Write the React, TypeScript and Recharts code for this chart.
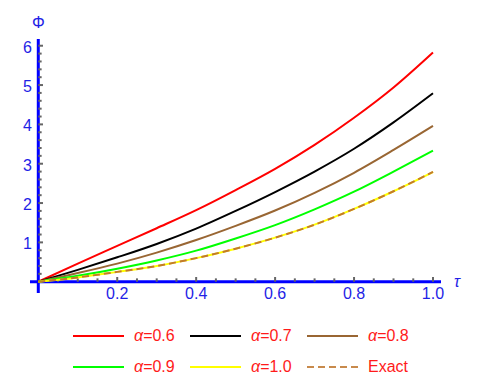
import { Legend, Line, LineChart, ReferenceLine, XAxis, YAxis } from "recharts";

const tau = [0, 0.1, 0.2, 0.3, 0.4, 0.5, 0.6, 0.7, 0.8, 0.9, 1.0];
const alpha06 = [0, 0.46, 0.91, 1.36, 1.82, 2.33, 2.87, 3.48, 4.17, 4.94, 5.83];
const alpha07 = [0, 0.3, 0.62, 0.96, 1.35, 1.8, 2.28, 2.8, 3.38, 4.05, 4.79];
const alpha08 = [0, 0.22, 0.46, 0.74, 1.06, 1.42, 1.81, 2.26, 2.77, 3.35, 3.96];
const alpha09 = [0, 0.15, 0.33, 0.54, 0.79, 1.1, 1.44, 1.84, 2.29, 2.8, 3.33];
const alpha10 = [0, 0.11, 0.25, 0.4, 0.6, 0.84, 1.12, 1.45, 1.85, 2.3, 2.79];
const exact = [0, 0.11, 0.25, 0.4, 0.6, 0.84, 1.12, 1.45, 1.85, 2.3, 2.79];

const xTickLabels = [0.2, 0.4, 0.6, 0.8, 1.0];
const yTickLabels = [1, 2, 3, 4, 5, 6];
const xMinorTicks = [
  0.05, 0.1, 0.15, 0.25, 0.3, 0.35, 0.45, 0.5, 0.55, 0.65, 0.7, 0.75, 0.85, 0.9, 0.95,
];
const yMinorTicks = [
  0.2, 0.4, 0.6, 0.8, 1.2, 1.4, 1.6, 1.8, 2.2, 2.4, 2.6, 2.8, 3.2, 3.4, 3.6, 3.8, 4.2, 4.4,
  4.6, 4.8, 5.2, 5.4, 5.6, 5.8,
];

const series = [
  { key: "a06", name: "α=0.6", color: "#ff0000", dash: undefined as string | undefined },
  { key: "a07", name: "α=0.7", color: "#000000", dash: undefined },
  { key: "a08", name: "α=0.8", color: "#996633", dash: undefined },
  { key: "a09", name: "α=0.9", color: "#00ff00", dash: undefined },
  { key: "a10", name: "α=1.0", color: "#ffff00", dash: undefined },
  { key: "exact", name: "Exact", color: "#c27a2c", dash: "7 4" },
];

const data = tau.map((t, i) => ({
  tau: t,
  a06: alpha06[i],
  a07: alpha07[i],
  a08: alpha08[i],
  a09: alpha09[i],
  a10: alpha10[i],
  exact: exact[i],
}));

const LABEL_BLUE = "#1f1fe6";
const FONT = "'Liberation Sans', Arial, sans-serif";

const XTick = (props: any) => (
  <text
    x={props.x}
    y={props.y}
    dy={6}
    textAnchor="middle"
    fill={LABEL_BLUE}
    fontSize={16}
    fontFamily={FONT}
  >
    {Number(props.payload.value).toFixed(1)}
  </text>
);

const YTick = (props: any) => (
  <text
    x={props.x}
    y={props.y}
    dx={2}
    dy={7}
    textAnchor="end"
    fill={LABEL_BLUE}
    fontSize={16}
    fontFamily={FONT}
  >
    {props.payload.value}
  </text>
);

const LegendBox = () => (
  <div style={{ position: "relative", width: 498, height: 58, fontFamily: FONT }}>
    {series.map((s, i) => (
      <div
        key={s.key}
        style={{
          position: "absolute",
          left: 73 + (i % 3) * 117,
          top: Math.floor(i / 3) * 31,
          height: 20,
          display: "flex",
          alignItems: "center",
        }}
      >
        <svg width={51} height={4}>
          <line
            x1={0}
            y1={2}
            x2={51}
            y2={2}
            stroke={s.key === "exact" ? "#c88a4c" : s.color}
            strokeWidth={2}
            strokeDasharray={s.dash}
          />
        </svg>
        <span style={{ marginLeft: 10, color: "#ff1a1a", fontSize: 16, lineHeight: "20px" }}>
          {s.key === "exact" ? (
            "Exact"
          ) : (
            <>
              <i>α</i>
              {s.name.slice(1)}
            </>
          )}
        </span>
      </div>
    ))}
  </div>
);

export default function App() {
  return (
    <div style={{ position: "absolute", left: 0, top: 0, width: 498, height: 384, background: "#fff" }}>
      <LineChart width={498} height={384} data={data} margin={{ top: 39, right: 57, left: 0, bottom: 0 }}>
        <XAxis
          type="number"
          dataKey="tau"
          domain={[-0.021, 1.0203]}
          ticks={xTickLabels}
          axisLine={false}
          tickLine={false}
          tickSize={0}
          tickMargin={0}
          height={33}
          tick={<XTick />}
          allowDataOverflow
        />
        <YAxis
          type="number"
          domain={[-0.287, 6.171]}
          ticks={yTickLabels}
          axisLine={false}
          tickLine={false}
          tickSize={0}
          tickMargin={0}
          width={30}
          tick={<YTick />}
          allowDataOverflow
        />
        <ReferenceLine
          x={0}
          stroke="#0000ff"
          strokeWidth={3}
          label={{ value: "Φ", position: "top", offset: 11, fill: LABEL_BLUE, fontSize: 16, fontFamily: FONT }}
        />
        <ReferenceLine
          y={0}
          stroke="#0000ff"
          strokeWidth={3}
          label={{
            value: "τ",
            position: "right",
            offset: 13,
            fill: LABEL_BLUE,
            fontSize: 16,
            fontStyle: "italic",
            fontFamily: FONT,
          }}
        />
        {xTickLabels.map((v) => (
          <ReferenceLine key={`xM${v}`} segment={[{ x: v, y: 0 }, { x: v, y: 0.12 }]} stroke="#666" strokeWidth={2} />
        ))}
        {xMinorTicks.map((v) => (
          <ReferenceLine key={`xm${v}`} segment={[{ x: v, y: 0 }, { x: v, y: 0.085 }]} stroke="#666" strokeWidth={2} />
        ))}
        {yTickLabels.map((v) => (
          <ReferenceLine key={`yM${v}`} segment={[{ x: 0, y: v }, { x: 0.012, y: v }]} stroke="#666" strokeWidth={2} />
        ))}
        {yMinorTicks.map((v) => (
          <ReferenceLine key={`ym${v}`} segment={[{ x: 0, y: v }, { x: 0.0085, y: v }]} stroke="#666" strokeWidth={2} />
        ))}
        {series.map((s) => (
          <Line
            key={s.key}
            type="monotone"
            dataKey={s.key}
            name={s.name}
            stroke={s.color}
            strokeWidth={2}
            strokeDasharray={s.dash}
            dot={false}
            isAnimationActive={false}
          />
        ))}
        <Legend verticalAlign="bottom" align="left" wrapperStyle={{ left: 0, width: 498 }} content={() => <LegendBox />} />
      </LineChart>
    </div>
  );
}
